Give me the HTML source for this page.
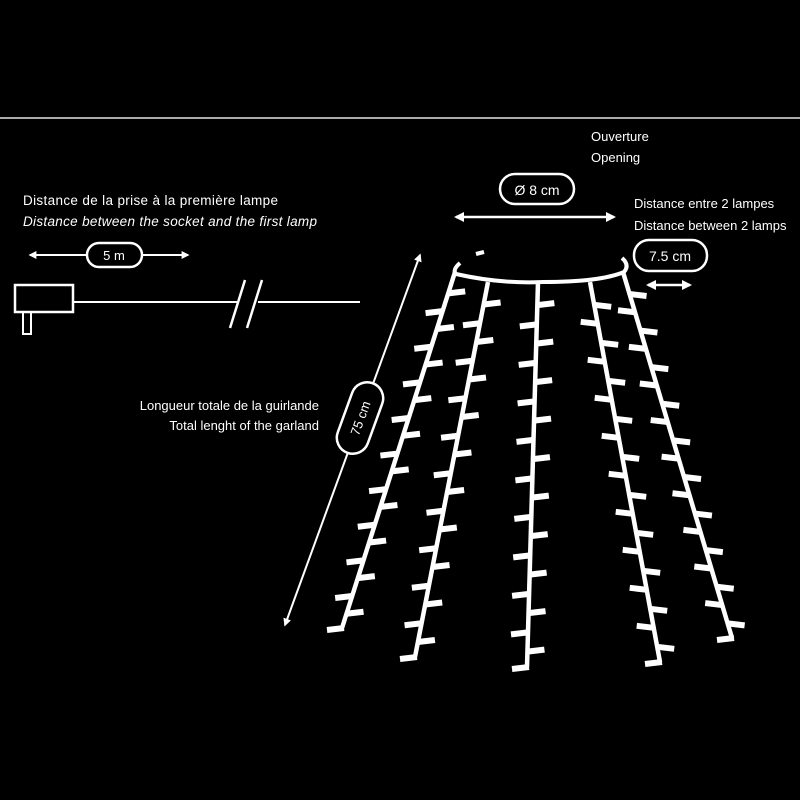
<!DOCTYPE html>
<html><head><style>
body{margin:0;background:#000;width:800px;height:800px;overflow:hidden}
svg{display:block}
text{fill:#fff;font-family:"Liberation Sans",sans-serif}
</style></head><body>
<svg id="s" width="800" height="800" viewBox="0 0 800 800" xmlns="http://www.w3.org/2000/svg">
<defs><marker id="a" viewBox="0 0 10 10" refX="8" refY="5" markerWidth="4" markerHeight="4" orient="auto-start-reverse"><path d="M0,0L10,5L0,10z" fill="#fff"/></marker></defs>
<line x1="0" y1="118" x2="800" y2="118" stroke="#aaa" stroke-width="2"/>
<text x="23" y="205" font-size="13.5" textLength="255">Distance de la prise à la première lampe</text>
<text x="23" y="226" font-size="13.5" font-style="italic" textLength="294">Distance between the socket and the first lamp</text>
<line x1="30" y1="255" x2="86" y2="255" stroke="#fff" stroke-width="2" marker-start="url(#a)"/>
<line x1="142" y1="255" x2="188" y2="255" stroke="#fff" stroke-width="2" marker-end="url(#a)"/>
<rect x="87" y="243" width="55" height="24" rx="12" fill="none" stroke="#fff" stroke-width="2.5"/>
<text x="114" y="260" font-size="13" text-anchor="middle">5 m</text>
<rect x="15" y="285" width="58" height="27" fill="none" stroke="#fff" stroke-width="2.5"/>
<rect x="23" y="312" width="8" height="22" fill="none" stroke="#fff" stroke-width="2"/>
<line x1="73" y1="302" x2="237" y2="302" stroke="#fff" stroke-width="2"/>
<line x1="258" y1="302" x2="360" y2="302" stroke="#fff" stroke-width="2"/>
<line x1="230" y1="328" x2="245" y2="280" stroke="#fff" stroke-width="2.5"/>
<line x1="247" y1="328" x2="262" y2="280" stroke="#fff" stroke-width="2.5"/>
<text x="319" y="410" font-size="13" text-anchor="end">Longueur totale de la guirlande</text>
<text x="319" y="430" font-size="13" text-anchor="end">Total lenght of the garland</text>
<line x1="285" y1="625" x2="420" y2="255" stroke="#fff" stroke-width="2" marker-start="url(#a)" marker-end="url(#a)"/>
<g transform="translate(360,418) rotate(-70)"><rect x="-37" y="-16" width="74" height="32" rx="16" fill="#000" stroke="#fff" stroke-width="2.5"/><text x="0" y="5" font-size="13" text-anchor="middle">75 cm</text></g>
<text x="591" y="141" font-size="13">Ouverture</text>
<text x="591" y="162" font-size="13">Opening</text>
<rect x="500" y="174" width="74" height="30" rx="15" fill="none" stroke="#fff" stroke-width="2.5"/>
<text x="537" y="195" font-size="14" text-anchor="middle">Ø 8 cm</text>
<line x1="456" y1="217" x2="614" y2="217" stroke="#fff" stroke-width="2.5" marker-start="url(#a)" marker-end="url(#a)"/>
<text x="634" y="208" font-size="13">Distance entre 2 lampes</text>
<text x="634" y="230" font-size="13">Distance between 2 lamps</text>
<rect x="634" y="240" width="73" height="31" rx="15" fill="none" stroke="#fff" stroke-width="2.5"/>
<text x="670" y="261" font-size="14" text-anchor="middle">7.5 cm</text>
<line x1="648" y1="285" x2="690" y2="285" stroke="#fff" stroke-width="2.5" marker-start="url(#a)" marker-end="url(#a)"/>
<path d="M460,263 Q452,270 456,274 Q500,284 543,282 Q600,282 624,272 Q630,265 622,258" fill="none" stroke="#fff" stroke-width="4"/>
<line x1="476" y1="254" x2="484" y2="252" stroke="#fff" stroke-width="4"/>
<g id="st" stroke="#fff" fill="none" stroke-width="4.5"></g>
</svg>
<script>
var g=document.getElementById('st');
var S=[[455,272,342,628],[488,282,415,657],[538,282,527,667],[590,282,660,662],[623,272,732,638]];
function L(x1,y1,x2,y2,w){var l=document.createElementNS('http://www.w3.org/2000/svg','line');l.setAttribute('x1',x1);l.setAttribute('y1',y1);l.setAttribute('x2',x2);l.setAttribute('y2',y2);if(w)l.setAttribute('stroke-width',w);g.appendChild(l);}
S.forEach(function(s){L(s[0],s[1],s[2],s[3]);var n=20;for(var i=1;i<n;i++){var t=(i+0.2)/n;var x=s[0]+(s[2]-s[0])*t,y=s[1]+(s[3]-s[1])*t;var d=i%2?1:-1;L(x,y,x+d*17,y+(s[2]>s[0]?-1:1)*d*-2,6);}L(s[2]+2,s[3],s[2]-15,s[3]+2,6);});
</script>
</body></html>
